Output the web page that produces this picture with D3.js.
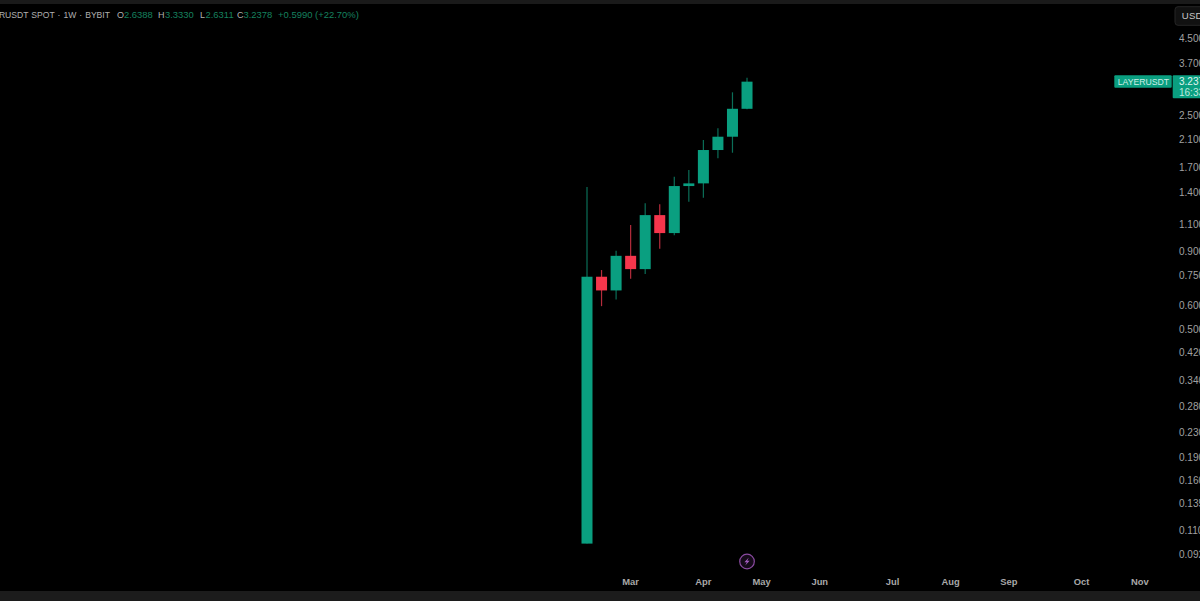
<!DOCTYPE html>
<html>
<head>
<meta charset="utf-8">
<script src="https://cdn.jsdelivr.net/npm/d3@7"></script>
<style>
html,body{margin:0;padding:0;background:#000;overflow:hidden}
svg{display:block}
text{font-family:"Liberation Sans",sans-serif}
</style>
</head>
<body>
<svg id="chart" width="1200" height="601"></svg>
<script>
const weeks = ["2025-02-10","2025-02-17","2025-02-24","2025-03-03","2025-03-10","2025-03-17","2025-03-24","2025-03-31","2025-04-07","2025-04-14","2025-04-21","2025-04-28"];
const opens  = [0.0995,0.744,0.671,0.871,0.788,1.184,1.034,1.474,1.504,1.934,2.138,2.6388];
const highs  = [1.463,0.7825,0.905,1.098,1.294,1.284,1.581,1.663,2.085,2.277,2.988,3.3330];
const lows   = [0.0995,0.596,0.627,0.733,0.759,0.918,1.018,1.309,1.349,1.816,1.895,2.6311];
const closes = [0.744,0.671,0.871,0.788,1.184,1.034,1.474,1.504,1.934,2.138,2.639,3.2378];
const priceTicks = ["4.5000","3.7000","2.5000","2.1000","1.7000","1.4000","1.1000","0.9000","0.7500","0.6000","0.5000","0.4200","0.3400","0.2800","0.2300","0.1900","0.1600","0.1350","0.1100","0.0920"];
const monthLabels = ["Mar","Apr","May","Jun","Jul","Aug","Sep","Oct","Nov"];
const monthWeekIndex = [3,8,12,16,21,25,29,34,38];
const headerParts = [["O","2.6388"],["H","3.3330"],["L","2.6311"],["C","3.2378"]];
const headerChange = "+0.5990 (+22.70%)";
const headerTitle = "LAYERUSDT SPOT · 1W · BYBIT";
const lastPriceName = "LAYERUSDT";
const lastPrice = "3.2378";
const countdown = "16:33:12";

const GREEN = "#0a9f80", RED = "#f5364c", TEXT = "#b0b0b0";
const svg = d3.select("#chart");
const W = 1200, H = 601;

const y = d3.scaleLog().domain([4.5, 0.092]).range([38, 554]);
const x = d3.scaleLinear().domain([0, 38]).range([587, 1139.8]);
const bodyW = 11;

svg.append("rect").attr("width", W).attr("height", H).attr("fill", "#000");
svg.append("rect").attr("width", W).attr("height", 4).attr("fill", "#1a1a1a");
svg.append("rect").attr("y", 591).attr("width", W).attr("height", 10).attr("fill", "#1c1c1c");

const data = weeks.map((w, i) => ({ w, i, o: opens[i], h: highs[i], l: lows[i], c: closes[i] }));
const col = d => d.c >= d.o ? GREEN : RED;

const g = svg.append("g");
g.selectAll("line.wick").data(data).join("line").attr("class", "wick")
  .attr("x1", d => x(d.i)).attr("x2", d => x(d.i))
  .attr("y1", d => y(d.h)).attr("y2", d => y(d.l))
  .attr("stroke", d => d.c >= d.o ? "#0b6e58" : "#b52c3c").attr("stroke-width", 1.2);
g.selectAll("rect.body").data(data).join("rect").attr("class", "body")
  .attr("x", d => x(d.i) - bodyW / 2).attr("width", bodyW)
  .attr("y", d => y(Math.max(d.o, d.c)))
  .attr("height", d => Math.max(2, Math.abs(y(d.o) - y(d.c))))
  .attr("fill", col);

// price axis labels
svg.append("g").selectAll("text").data(priceTicks).join("text")
  .attr("x", 1179).attr("y", d => y(+d)).attr("dy", "0.35em")
  .attr("font-size", 10).attr("fill", "#a0a0a0").text(d => d);

// time axis labels
svg.append("g").selectAll("text").data(monthLabels).join("text")
  .attr("x", (d, i) => x(monthWeekIndex[i])).attr("y", 581.5).attr("dy", "0.35em")
  .attr("text-anchor", "middle").attr("font-size", 9.4).attr("font-weight", 700)
  .attr("fill", "#a8a8a8").text(d => d);

// header
const hdr = svg.append("g").attr("fill", TEXT);
const hy = 15;
hdr.append("text").attr("x", 110).attr("y", hy).attr("dy", "0.35em").attr("text-anchor", "end")
  .attr("font-size", 8.6).attr("word-spacing", 0.6).text(headerTitle);
const labelX = [117, 158, 200, 237], valueX = [124, 165, 205.5, 243.5];
headerParts.forEach((p, i) => {
  hdr.append("text").attr("x", labelX[i]).attr("y", hy).attr("dy", "0.35em").attr("font-size", 9).text(p[0]);
  hdr.append("text").attr("x", valueX[i]).attr("y", hy).attr("dy", "0.35em").attr("fill", "#16805f")
    .attr("font-size", 9.45).text(p[1]);
});
hdr.append("text").attr("x", 278).attr("y", hy).attr("dy", "0.35em").attr("fill", "#16805f")
  .attr("font-size", 9.45).text(headerChange);

// currency button
svg.append("rect").attr("x", 1175).attr("y", 6.7).attr("width", 40).attr("height", 18.6).attr("rx", 3)
  .attr("fill", "#111").attr("stroke", "#262626");
svg.append("text").attr("x", 1181.7).attr("y", 16).attr("dy", "0.35em")
  .attr("font-size", 9.6).attr("letter-spacing", 0.3).attr("fill", "#c8c8c8").text("USDT");

// last price tags
svg.append("rect").attr("x", 1114.3).attr("y", 75.3).attr("width", 57.4).attr("height", 12.4).attr("rx", 1).attr("fill", GREEN);
svg.append("text").attr("x", 1117.7).attr("y", 81.5).attr("dy", "0.35em")
  .attr("font-size", 8.7).attr("fill", "#cfeee6").text(lastPriceName);
svg.append("rect").attr("x", 1172.7).attr("y", 75.3).attr("width", 30).attr("height", 23).attr("rx", 1).attr("fill", GREEN);
svg.append("text").attr("x", 1179).attr("y", 81.5).attr("dy", "0.35em")
  .attr("font-size", 10).attr("fill", "#e0f4ef").text(lastPrice);
svg.append("text").attr("x", 1179).attr("y", 92).attr("dy", "0.35em")
  .attr("font-size", 10).attr("fill", "#bfe8de").text(countdown);

// event marker
const ev = svg.append("g").attr("transform", `translate(${x(11)},561.5)`);
ev.append("circle").attr("r", 7.3).attr("fill", "#140a18").attr("stroke", "#8a4aa0").attr("stroke-width", 1.2);
ev.append("path").attr("d", "M1.8,-4 L-2.6,0.8 L-0.2,0.8 L-1.8,4 L2.6,-0.8 L0.2,-0.8 Z").attr("fill", "#a45cc0");
</script>
</body>
</html>
